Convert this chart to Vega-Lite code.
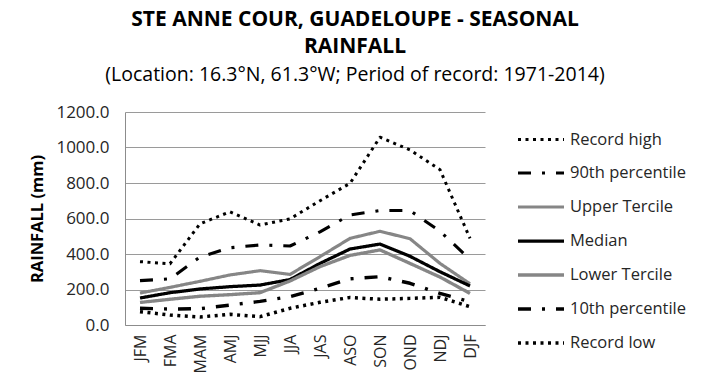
{
  "$schema": "https://vega.github.io/schema/vega-lite/v6.json",
  "autosize": "none",
  "width": 360,
  "height": 213,
  "padding": {"left": 125, "top": 112, "right": 225, "bottom": 50},
  "background": "white",
  "title": {
    "text": ["STE ANNE COUR, GUADELOUPE - SEASONAL", "RAINFALL"],
    "subtitle": "(Location: 16.3°N, 61.3°W; Period of record: 1971-2014)",
    "anchor": "middle",
    "frame": "group",
    "dx": 50,
    "font": "Open Sans",
    "fontSize": 21,
    "fontWeight": "bold",
    "lineHeight": 27,
    "color": "#000000",
    "subtitleFont": "Open Sans",
    "subtitleFontSize": 19.5,
    "subtitleColor": "#000000",
    "subtitlePadding": 9,
    "offset": 19
  },
  "data": {
    "values": [
      {"season": "JFM", "series": "Record high", "value": 357},
      {"season": "FMA", "series": "Record high", "value": 345},
      {"season": "MAM", "series": "Record high", "value": 570},
      {"season": "AMJ", "series": "Record high", "value": 638},
      {"season": "MJJ", "series": "Record high", "value": 563},
      {"season": "JJA", "series": "Record high", "value": 598},
      {"season": "JAS", "series": "Record high", "value": 700},
      {"season": "ASO", "series": "Record high", "value": 798},
      {"season": "SON", "series": "Record high", "value": 1058},
      {"season": "OND", "series": "Record high", "value": 986},
      {"season": "NDJ", "series": "Record high", "value": 875},
      {"season": "DJF", "series": "Record high", "value": 488},
      {"season": "JFM", "series": "90th percentile", "value": 250},
      {"season": "FMA", "series": "90th percentile", "value": 260},
      {"season": "MAM", "series": "90th percentile", "value": 383},
      {"season": "AMJ", "series": "90th percentile", "value": 435},
      {"season": "MJJ", "series": "90th percentile", "value": 451},
      {"season": "JJA", "series": "90th percentile", "value": 445},
      {"season": "JAS", "series": "90th percentile", "value": 525},
      {"season": "ASO", "series": "90th percentile", "value": 620},
      {"season": "SON", "series": "90th percentile", "value": 645},
      {"season": "OND", "series": "90th percentile", "value": 645},
      {"season": "NDJ", "series": "90th percentile", "value": 528},
      {"season": "DJF", "series": "90th percentile", "value": 370},
      {"season": "JFM", "series": "Upper Tercile", "value": 180},
      {"season": "FMA", "series": "Upper Tercile", "value": 212},
      {"season": "MAM", "series": "Upper Tercile", "value": 246},
      {"season": "AMJ", "series": "Upper Tercile", "value": 282},
      {"season": "MJJ", "series": "Upper Tercile", "value": 306},
      {"season": "JJA", "series": "Upper Tercile", "value": 285},
      {"season": "JAS", "series": "Upper Tercile", "value": 385},
      {"season": "ASO", "series": "Upper Tercile", "value": 488},
      {"season": "SON", "series": "Upper Tercile", "value": 528},
      {"season": "OND", "series": "Upper Tercile", "value": 486},
      {"season": "NDJ", "series": "Upper Tercile", "value": 347},
      {"season": "DJF", "series": "Upper Tercile", "value": 232},
      {"season": "JFM", "series": "Median", "value": 152},
      {"season": "FMA", "series": "Median", "value": 182},
      {"season": "MAM", "series": "Median", "value": 203},
      {"season": "AMJ", "series": "Median", "value": 216},
      {"season": "MJJ", "series": "Median", "value": 225},
      {"season": "JJA", "series": "Median", "value": 256},
      {"season": "JAS", "series": "Median", "value": 347},
      {"season": "ASO", "series": "Median", "value": 428},
      {"season": "SON", "series": "Median", "value": 456},
      {"season": "OND", "series": "Median", "value": 387},
      {"season": "NDJ", "series": "Median", "value": 300},
      {"season": "DJF", "series": "Median", "value": 220},
      {"season": "JFM", "series": "Lower Tercile", "value": 127},
      {"season": "FMA", "series": "Lower Tercile", "value": 145},
      {"season": "MAM", "series": "Lower Tercile", "value": 162},
      {"season": "AMJ", "series": "Lower Tercile", "value": 171},
      {"season": "MJJ", "series": "Lower Tercile", "value": 182},
      {"season": "JJA", "series": "Lower Tercile", "value": 248},
      {"season": "JAS", "series": "Lower Tercile", "value": 329},
      {"season": "ASO", "series": "Lower Tercile", "value": 392},
      {"season": "SON", "series": "Lower Tercile", "value": 423},
      {"season": "OND", "series": "Lower Tercile", "value": 347},
      {"season": "NDJ", "series": "Lower Tercile", "value": 270},
      {"season": "DJF", "series": "Lower Tercile", "value": 178},
      {"season": "JFM", "series": "10th percentile", "value": 94},
      {"season": "FMA", "series": "10th percentile", "value": 90},
      {"season": "MAM", "series": "10th percentile", "value": 92},
      {"season": "AMJ", "series": "10th percentile", "value": 112},
      {"season": "MJJ", "series": "10th percentile", "value": 133},
      {"season": "JJA", "series": "10th percentile", "value": 160},
      {"season": "JAS", "series": "10th percentile", "value": 207},
      {"season": "ASO", "series": "10th percentile", "value": 260},
      {"season": "SON", "series": "10th percentile", "value": 272},
      {"season": "OND", "series": "10th percentile", "value": 235},
      {"season": "NDJ", "series": "10th percentile", "value": 178},
      {"season": "DJF", "series": "10th percentile", "value": 131},
      {"season": "JFM", "series": "Record low", "value": 75},
      {"season": "FMA", "series": "Record low", "value": 56},
      {"season": "MAM", "series": "Record low", "value": 45},
      {"season": "AMJ", "series": "Record low", "value": 60},
      {"season": "MJJ", "series": "Record low", "value": 47},
      {"season": "JJA", "series": "Record low", "value": 94},
      {"season": "JAS", "series": "Record low", "value": 128},
      {"season": "ASO", "series": "Record low", "value": 155},
      {"season": "SON", "series": "Record low", "value": 145},
      {"season": "OND", "series": "Record low", "value": 150},
      {"season": "NDJ", "series": "Record low", "value": 156},
      {"season": "DJF", "series": "Record low", "value": 103}
    ]
  },
  "mark": {"type": "line", "strokeCap": "butt", "strokeJoin": "round"},
  "encoding": {
    "x": {
      "field": "season",
      "type": "nominal",
      "sort": ["JFM", "FMA", "MAM", "AMJ", "MJJ", "JJA", "JAS", "ASO", "SON", "OND", "NDJ", "DJF"],
      "scale": {"paddingInner": 0, "paddingOuter": 0},
      "axis": {
        "title": null,
        "labelAngle": -90,
        "labelAlign": "right",
        "labelBaseline": "middle",
        "labelFont": "Open Sans",
        "labelFontSize": 16,
        "labelColor": "#262626",
        "labelPadding": 9,
        "ticks": false,
        "domainColor": "#8c8c8c",
        "domainWidth": 1,
        "grid": false
      }
    },
    "y": {
      "field": "value",
      "type": "quantitative",
      "scale": {"domain": [0, 1200], "nice": false},
      "axis": {
        "title": "RAINFALL (mm)",
        "titleFont": "Open Sans",
        "titleFontSize": 16.5,
        "titleFontWeight": "bold",
        "titleColor": "#000000",
        "titlePadding": 10,
        "values": [0, 200, 400, 600, 800, 1000, 1200],
        "format": ".1f",
        "labelFont": "Open Sans",
        "labelFontSize": 17,
        "labelColor": "#262626",
        "labelPadding": 16,
        "ticks": false,
        "domainColor": "#8c8c8c",
        "domainWidth": 1,
        "grid": true,
        "gridColor": "#9a9a9a",
        "gridWidth": 1
      }
    },
    "color": {
      "field": "series",
      "type": "nominal",
      "scale": {
        "domain": ["Record high", "90th percentile", "Upper Tercile", "Median", "Lower Tercile", "10th percentile", "Record low"],
        "range": ["#000000", "#000000", "#868686", "#000000", "#868686", "#000000", "#000000"]
      },
      "legend": {
        "title": null,
        "orient": "none",
        "legendX": 391,
        "legendY": 3,
        "symbolType": "stroke",
        "symbolSize": 2116,
        "labelFont": "Open Sans",
        "labelFontSize": 16.5,
        "labelColor": "#262626",
        "labelOffset": 4,
        "rowPadding": -8.5,
        "labelLimit": 200,
        "padding": 0
      }
    },
    "strokeDash": {
      "field": "series",
      "type": "nominal",
      "scale": {
        "domain": ["Record high", "90th percentile", "Upper Tercile", "Median", "Lower Tercile", "10th percentile", "Record low"],
        "range": [[3, 4.5], [13, 11, 3, 11], [1, 0], [1, 0], [1, 0], [13, 11, 3, 11], [3, 4.5]]
      }
    },
    "strokeWidth": {
      "field": "series",
      "type": "nominal",
      "scale": {
        "domain": ["Record high", "90th percentile", "Upper Tercile", "Median", "Lower Tercile", "10th percentile", "Record low"],
        "range": [3, 3.5, 3.5, 3.5, 3.5, 3.5, 3]
      }
    }
  },
  "config": {
    "view": {"stroke": null}
  }
}
